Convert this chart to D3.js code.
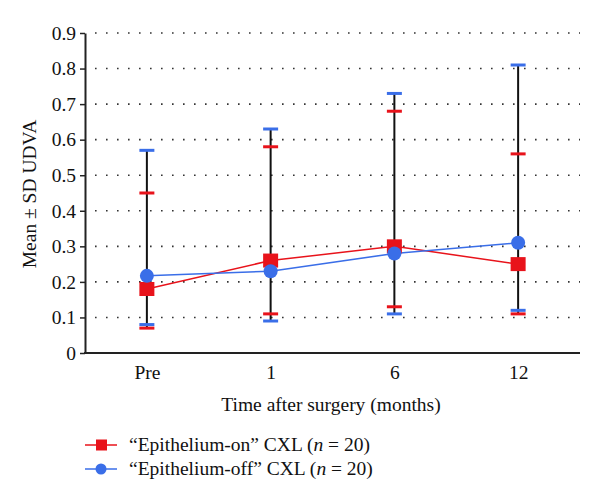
<!DOCTYPE html>
<html><head><meta charset="utf-8">
<script src="https://cdn.jsdelivr.net/npm/d3@7"></script>
<style>body{margin:0;background:#fff}svg{display:block}text{font-family:"Liberation Serif","DejaVu Serif",serif;fill:#111}</style>
</head><body>
<script>
const categories = ["Pre", "1", "6", "12"];
const onMean  = [0.18, 0.26, 0.30, 0.25];
const onUpper = [0.45, 0.58, 0.68, 0.56];
const onLower = [0.07, 0.11, 0.13, 0.11];
const offMean  = [0.217, 0.23, 0.28, 0.31];
const offUpper = [0.57, 0.63, 0.73, 0.81];
const offLower = [0.08, 0.09, 0.11, 0.12];
const yTicks = [0, 0.1, 0.2, 0.3, 0.4, 0.5, 0.6, 0.7, 0.8, 0.9];
const seriesNames = ["\u201cEpithelium-on\u201d CXL (", "\u201cEpithelium-off\u201d CXL ("];

const RED = "#e8131b", BLUE = "#3a6ee8";
const FS = 19.5;
const W = 600, H = 503;
const svg = d3.select("body").append("svg").attr("width", W).attr("height", H);
const x = d3.scalePoint().domain(categories).range([85, 580]).padding(0.5);
const y = d3.scaleLinear().domain([0, 0.9]).range([353, 33]);

// grid
svg.append("g").selectAll("line").data(yTicks.filter(d => d > 0)).join("line")
  .attr("x1", 95).attr("x2", 580).attr("y1", d => y(d)).attr("y2", d => y(d))
  .attr("stroke", "#333").attr("stroke-width", 1.6).attr("stroke-dasharray", "1.6 9.4");

// axes
const ya = svg.append("g").attr("transform", "translate(85,0)")
  .call(d3.axisLeft(y).tickValues(yTicks).tickFormat(d => d === 0 ? "0" : d3.format(".1f")(d)).tickSize(5).tickSizeOuter(0));
ya.select(".domain").attr("stroke", "#222").attr("stroke-width", 2);
ya.selectAll(".tick line").attr("stroke", "#222").attr("stroke-width", 1.5);
ya.selectAll(".tick text").attr("font-size", FS).attr("x", -9).attr("fill", "#111")
  .attr("font-family", "Liberation Serif, serif");

const xa = svg.append("g").attr("transform", "translate(0,353)")
  .call(d3.axisBottom(x).tickSize(0).tickSizeOuter(0));
xa.select(".domain").attr("stroke", "#222").attr("stroke-width", 2).attr("d", "M84,0H580");
xa.selectAll(".tick text").attr("font-size", FS).attr("y", 12).attr("fill", "#111")
  .attr("font-family", "Liberation Serif, serif");

// titles
svg.append("text").attr("transform", "translate(36,194) rotate(-90)").attr("text-anchor", "middle")
  .attr("font-size", FS).text("Mean \u00b1 SD UDVA");
svg.append("text").attr("x", 331).attr("y", 411).attr("text-anchor", "middle")
  .attr("font-size", FS).text("Time after surgery (months)");

// error bars vertical
const idx = d3.range(categories.length);
svg.append("g").selectAll("line").data(idx).join("line")
  .attr("x1", i => x(categories[i])).attr("x2", i => x(categories[i]))
  .attr("y1", i => y(Math.max(onUpper[i], offUpper[i])))
  .attr("y2", i => y(Math.min(onLower[i], offLower[i])))
  .attr("stroke", "#111").attr("stroke-width", 2);

function caps(vals, color) {
  svg.append("g").selectAll("line").data(idx).join("line")
    .attr("x1", i => x(categories[i]) - 7.5).attr("x2", i => x(categories[i]) + 7.5)
    .attr("y1", i => y(vals[i])).attr("y2", i => y(vals[i]))
    .attr("stroke", color).attr("stroke-width", 3);
}
caps(onUpper, RED); caps(onLower, RED);
caps(offUpper, BLUE); caps(offLower, BLUE);

// lines
const line = d3.line().x(d => x(d[0])).y(d => y(d[1]));
svg.append("path").attr("d", line(categories.map((c, i) => [c, onMean[i]])))
  .attr("fill", "none").attr("stroke", RED).attr("stroke-width", 1.5);
svg.append("path").attr("d", line(categories.map((c, i) => [c, offMean[i]])))
  .attr("fill", "none").attr("stroke", BLUE).attr("stroke-width", 1.5);

// markers
svg.append("g").selectAll("rect").data(idx).join("rect")
  .attr("x", i => x(categories[i]) - 7.5).attr("y", i => y(onMean[i]) - 7)
  .attr("width", 15).attr("height", 14).attr("fill", RED);
svg.append("g").selectAll("circle").data(idx).join("circle")
  .attr("cx", i => x(categories[i])).attr("cy", i => y(offMean[i])).attr("r", 7)
  .attr("fill", BLUE);

// legend
const leg = [[RED, "rect", 445], [BLUE, "circle", 469]];
leg.forEach((L, k) => {
  const g = svg.append("g");
  g.append("line").attr("x1", 85).attr("x2", 117).attr("y1", L[2]).attr("y2", L[2])
    .attr("stroke", L[0]).attr("stroke-width", 1.5);
  if (L[1] === "rect") g.append("rect").attr("x", 96).attr("y", L[2] - 5.5).attr("width", 11).attr("height", 11).attr("fill", L[0]);
  else g.append("circle").attr("cx", 101).attr("cy", L[2]).attr("r", 5.5).attr("fill", L[0]);
  const t = g.append("text").attr("x", 129).attr("y", L[2] + 6).attr("font-size", FS);
  t.append("tspan").text(seriesNames[k]);
  t.append("tspan").attr("font-style", "italic").text("n");
  t.append("tspan").text(" = 20)");
});
</script>
</body></html>
